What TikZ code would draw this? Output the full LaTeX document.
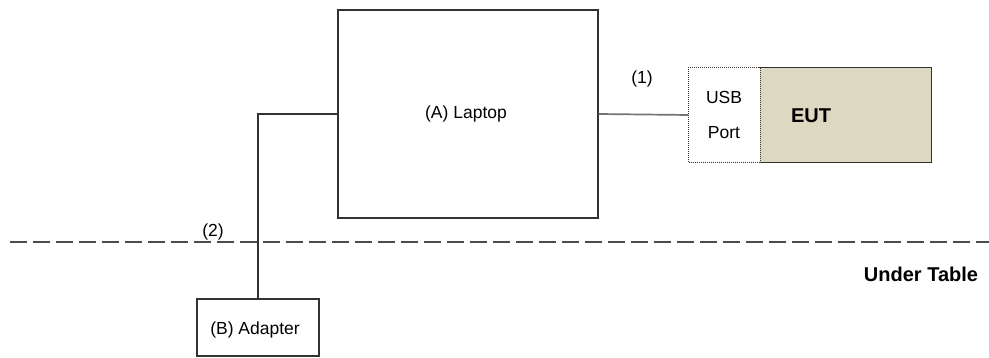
\documentclass[tikz,border=0pt]{standalone}
\usepackage{fontspec}
\setmainfont{Liberation Sans}
\definecolor{eutfill}{RGB}{221,216,193}
\definecolor{boxline}{RGB}{50,50,50}
\begin{document}
\begin{tikzpicture}[x=1pt,y=-1pt,
  box/.style={draw=boxline,line width=1.4pt,rectangle,inner sep=0pt,fill=white},
  lbl/.style={font=\fontsize{17.5}{20}\selectfont,inner sep=0pt},
  blbl/.style={font=\fontsize{20}{23}\selectfont\bfseries,inner sep=0pt},
  wire/.style={draw=boxline,line width=1.5pt},
  dotline/.style={draw=boxline,line width=1.3pt,dash pattern=on 1pt off 1pt},
  tableline/.style={draw=black!70,line width=2.4pt,dash pattern=on 17pt off 6pt}]
\useasboundingbox (0,0) rectangle (989,358);
\node[box,minimum width=260pt,minimum height=208pt] (laptop) at (468,114) {};
\node[lbl] (laptoptxt) at (466,114) {(A) Laptop};
\node[box,minimum width=122pt,minimum height=57pt] (adapter) at (258,327.5) {};
\node[lbl] (adaptertxt) at (255,330) {(B) Adapter};
\node[box,draw=none,minimum width=71pt,minimum height=94pt] (usb) at (724.5,115) {};
\node[box,draw=none,fill=eutfill,minimum width=171pt,minimum height=94pt] (eut) at (845.5,115) {};
\draw[wire,line width=1.4pt] (eut.north west) -- (eut.north east) -- (eut.south east) -- (eut.south west);
\draw[dotline] (usb.north east) -- (usb.north west) -- (usb.south west) -- (usb.south east) -- cycle;
\node[lbl] (usbtxt) at (724,97) {USB};
\node[lbl] (porttxt) at (724,133) {Port};
\node[blbl] (euttxt) at (811,116) {EUT};
\draw[wire,draw=black!55,line width=1.7pt] (laptop.east) -- (usb.west);
\draw[wire] (laptop.west) -| (adapter.north);
\coordinate (tl) at (10,242);
\coordinate (tr) at (989,242);
\draw[tableline] (tl) -- (tr);
\node[lbl] (lbl1) at (642,79) {(1)};
\node[lbl] (lbl2) at (213,232) {(2)};
\node[blbl] (under) at (921,274) {Under Table};
\end{tikzpicture}
\end{document}
